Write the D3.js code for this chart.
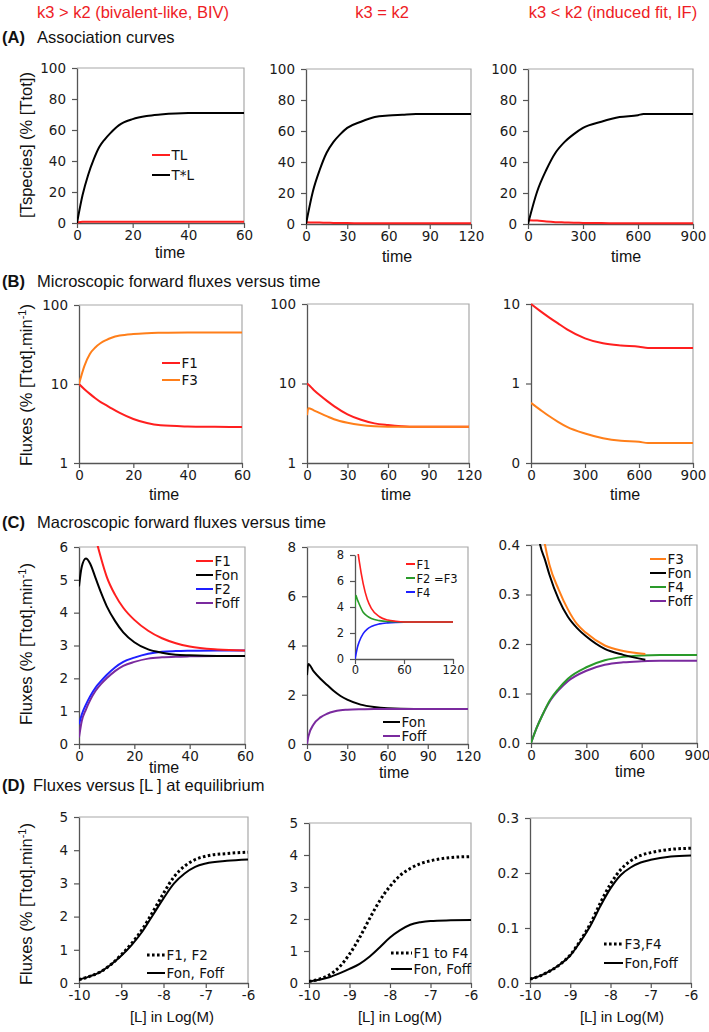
<!DOCTYPE html>
<html><head><meta charset="utf-8">
<script src="https://cdn.jsdelivr.net/npm/d3@7"></script>
<style>body{margin:0;background:#fff}svg{display:block}</style>
</head><body>
<svg id="c" width="709" height="1032"></svg>
<script>
// ---------------- DATA ----------------
// Row A: association curves
const a1Time = [0,2,4,6,8,10,12,15,20,25,30,40,50,60];
const a1TstarL = [0,18,31,41,49,54,58,63,67,69,70,71,71,71];
const a1TL = [0.3,0.8,0.8,0.8,0.8,0.8,0.8,0.8,0.8,0.8,0.8,0.8,0.8,0.8];
const a2Time = [0,5,10,15,20,25,30,40,50,60,70,80,90,100,120];
const a2TstarL = [0,21,35,46,53,58,62,66,69,70,70.5,71,71,71,71];
const a2TL = [1.2,1.0,0.9,0.8,0.7,0.6,0.6,0.5,0.5,0.5,0.5,0.5,0.5,0.5,0.5];
const a3Time = [0,50,100,150,200,250,300,400,500,600,630,700,800,900];
const a3TstarL = [0,21,35,46,53,58,62,66,69,70.2,71,71,71,71];
const a3TL = [2.5,2.2,1.6,1.2,1.0,0.8,0.7,0.6,0.5,0.5,0.5,0.5,0.5,0.5];

// Row B: microscopic forward fluxes (log scale)
const b1Time = [0,2,4,6,8,10,12,15,20,25,30,40,50,60];
const b1F3 = [10,17,24,29,33,36,38.5,41,43,44,44.5,45,45,45];
const b1F1 = [10,8.6,7.5,6.6,5.9,5.4,4.9,4.3,3.6,3.2,3.0,2.9,2.87,2.85];
const b2Time = [0,1,5,10,15,20,30,40,50,60,70,80,90,120];
const b2F1 = [10,9.7,8.3,7.0,6.0,5.2,4.1,3.5,3.15,3.0,2.9,2.85,2.85,2.85];
const b2F3 = [4.0,4.9,4.6,4.2,3.85,3.55,3.2,3.0,2.9,2.86,2.85,2.85,2.85,2.85];
const b3Time = [0,50,100,150,200,300,400,500,600,650,700,900];
const b3F1 = [10,8.2,6.8,5.7,4.8,3.7,3.2,3.0,2.9,2.8,2.8,2.8];
const b3F3 = [0.57,0.47,0.39,0.33,0.285,0.235,0.205,0.19,0.185,0.178,0.178,0.178];

// Row C: macroscopic forward fluxes
const c1Time = [0,1,2.5,4,6,8,10,13,16,20,25,30,35,40,50,60];
const c1F1 = [10,9.2,8.1,7.2,6.3,5.65,5.1,4.55,4.15,3.78,3.45,3.22,3.07,2.97,2.88,2.85];
const c1Fon = [4.8,5.4,5.65,5.5,5.05,4.6,4.2,3.75,3.4,3.1,2.88,2.78,2.72,2.70,2.68,2.68];
const c1F2 = [0.6,0.9,1.2,1.45,1.72,1.92,2.1,2.33,2.5,2.63,2.75,2.81,2.83,2.84,2.85,2.85];
const c1Foff = [0.2,0.7,1.05,1.33,1.62,1.83,2.0,2.22,2.38,2.5,2.6,2.64,2.66,2.67,2.68,2.68];
const c2Time = [0,1,5,10,15,20,25,30,40,50,60,80,100,120];
const c2Fon = [2.8,3.25,2.95,2.65,2.4,2.15,1.95,1.8,1.6,1.5,1.45,1.42,1.42,1.42];
const c2Foff = [0,0.3,0.8,1.08,1.23,1.32,1.37,1.39,1.41,1.42,1.42,1.42,1.42,1.42];
const c2InsetTime = [0,1,3,5,10,15,20,30,40,50,60,80,120];
const c2InsetF1 = [10,9.4,8.5,7.6,5.8,4.6,3.9,3.25,3.0,2.9,2.85,2.85,2.85];
const c2InsetF2F3 = [4.0,4.9,4.55,4.25,3.6,3.3,3.12,2.95,2.88,2.86,2.85,2.85,2.85];
const c2InsetF4 = [0,0.3,0.9,1.3,1.95,2.3,2.5,2.7,2.78,2.82,2.84,2.85,2.85];
const c3TimeA = [0,50,76,100,150,200,250,300,400,500,620];
const c3F3 = [0.57,0.46,0.4,0.36,0.31,0.27,0.24,0.222,0.197,0.186,0.18];
const c3Fon = [0.55,0.4,0.37,0.34,0.29,0.255,0.232,0.215,0.19,0.178,0.168];
const c3TimeB = [0,30,60,100,150,200,300,400,500,600,700,900];
const c3F4 = [0,0.03,0.055,0.085,0.11,0.13,0.153,0.167,0.174,0.177,0.178,0.178];
const c3Foff = [0,0.03,0.055,0.083,0.107,0.125,0.146,0.158,0.163,0.165,0.166,0.166];

// Row D: fluxes versus [L] at equilibrium
const logL = [-10,-9.75,-9.5,-9.25,-9,-8.75,-8.5,-8.25,-8,-7.75,-7.5,-7.25,-7,-6.5,-6];
const d1Micro = [0.1,0.2,0.33,0.55,0.85,1.2,1.62,2.15,2.7,3.2,3.52,3.72,3.82,3.9,3.94];
const d1Macro = [0.1,0.2,0.33,0.55,0.82,1.15,1.55,2.05,2.55,3.0,3.3,3.5,3.6,3.68,3.72];
const d2Micro = [0.05,0.12,0.25,0.5,0.9,1.42,2.02,2.58,3.02,3.36,3.58,3.73,3.82,3.92,3.95];
const d2Macro = [0.05,0.1,0.18,0.3,0.44,0.6,0.83,1.12,1.42,1.65,1.82,1.9,1.94,1.96,1.97];
const d3Micro = [0.007,0.013,0.022,0.034,0.051,0.077,0.108,0.146,0.18,0.206,0.222,0.232,0.237,0.243,0.245];
const d3Macro = [0.007,0.013,0.022,0.034,0.05,0.075,0.104,0.14,0.172,0.196,0.21,0.219,0.224,0.23,0.232];

// Tick values / labels
const pctTicks = [0,20,40,60,80,100];
const xTicks60 = [0,20,40,60];
const xTicks120 = [0,30,60,90,120];
const xTicks900 = [0,300,600,900];
const xTicksInset = [0,60,120];
const logTicksB12 = [1,10,100];
const logTicksB3 = [0.1,1,10];
const logLabelsB3 = ["0","1","10"];
const c1Ticks = [0,1,2,3,4,5,6];
const c2Ticks = [0,2,4,6,8];
const c3Ticks = [0,0.1,0.2,0.3,0.4];
const dTicks5 = [0,1,2,3,4,5];
const d3Ticks = [0,0.1,0.2,0.3];
const logLTicks = [-10,-9,-8,-7,-6];
const logLLabels = ["-10","-9","-8","-7","-6"];

const headers = ["k3 > k2 (bivalent-like, BIV)","k3 = k2","k3 < k2 (induced fit, IF)"];
const sectionLetters = ["(A)","(B)","(C)","(D)"];
const sectionTitles = ["Association curves","Microscopic forward fluxes versus time","Macroscopic forward fluxes versus time","Fluxes versus [L ] at equilibrium"];

// ---------------- DRAWING ----------------
const RED="#ff1f1f", ORANGE="#ff7f1a", BLACK="#000", BLUE="#1f1fff", PURPLE="#7a2a9e", GREEN="#2a9a2a";
const svg = d3.select("#c");
const TF = "'DejaVu Sans', Verdana, sans-serif";
const LF = "'Liberation Sans', Arial, sans-serif";
let clipN = 0;
const zip = (xs, ys) => xs.map((v,i)=>[v, ys[i]]);

function panel(cfg){
  const [x0,x1,y0,y1] = cfg.box;
  const fs = cfg.fs || 13.5;
  const x = d3.scaleLinear().domain(cfg.xDomain).range([x0,x1]);
  const y = (cfg.log ? d3.scaleLog() : d3.scaleLinear()).domain(cfg.yDomain).range([y1,y0]);
  const g = svg.append("g");
  if (cfg.frame !== false) {
    g.append("path").attr("d",`M${x0},${y0}H${x1}V${y1}`)
      .attr("fill","none").attr("stroke","#a8a8a8").attr("stroke-width",1.2);
  }
  const id = "clip" + (clipN++);
  svg.append("clipPath").attr("id",id).append("rect")
    .attr("x",x0).attr("y",y0-1).attr("width",x1-x0+2).attr("height",y1-y0+2);

  const xa = g.append("g").attr("transform",`translate(0,${y1})`)
    .call(d3.axisBottom(x).tickValues(cfg.xTicks).tickSize(5).tickSizeOuter(0).tickPadding(2)
      .tickFormat(cfg.xFmt || d3.format("d")));
  const ya = g.append("g").attr("transform",`translate(${x0},0)`)
    .call(d3.axisLeft(y).tickValues(cfg.yTicks).tickSize(5).tickSizeOuter(0).tickPadding(6)
      .tickFormat(cfg.yFmt || d3.format("d")));
  [xa,ya].forEach(a=>{
    a.select(".domain").attr("stroke","#555").attr("stroke-width",1.3);
    a.selectAll(".tick line").attr("stroke","#555").attr("stroke-width",1.2);
    a.selectAll("text").attr("font-family",TF).attr("font-size",fs).attr("fill","#1a1a1a");
  });

  const lg = g.append("g").attr("clip-path",`url(#${id})`);
  cfg.series.forEach(s=>{
    const line = d3.line().x(d=>x(d[0])).y(d=>y(d[1])).curve(d3.curveMonotoneX);
    const p = lg.append("path").datum(zip(s.xs,s.ys)).attr("d",line)
      .attr("fill","none").attr("stroke",s.color).attr("stroke-width",s.w || 2)
      .attr("stroke-linejoin","round");
    if (s.dotted) p.attr("stroke-dasharray","2.6,2.4").attr("stroke-width",3);
  });

  if (cfg.xTitle) {
    g.append("text").attr("x",cfg.xTitle[1]).attr("y",y1+cfg.xTitle[2])
      .attr("text-anchor","middle").attr("font-family",LF).attr("font-size",cfg.xTitle[3]||16)
      .attr("fill","#111").text(cfg.xTitle[0]);
  }
  if (cfg.legend) {
    const L = cfg.legend;
    L.items.forEach((it,i)=>{
      const ly = L.ys[i];
      const ln = g.append("line").attr("x1",L.x0).attr("x2",L.x1).attr("y1",ly).attr("y2",ly)
        .attr("stroke",it.color).attr("stroke-width",it.dotted?3:2);
      if (it.dotted) ln.attr("stroke-dasharray","2.6,2.4");
      g.append("text").attr("x",L.x1+1.5).attr("y",ly+4.7).attr("font-family",TF)
        .attr("font-size",L.fs||13.5).attr("fill","#111").text(it.label);
    });
  }
  return {x,y,g};
}

// Headers
const headerX = [133,382,613];
headers.forEach((h,i)=>{
  svg.append("text").attr("x",headerX[i]).attr("y",18).attr("text-anchor","middle")
    .attr("font-family",LF).attr("font-size",16.5).attr("fill","#ee1c25").text(h);
});
// Section titles
const secY = [43,287,528,791];
const secTX = [37,37,37,33];
sectionLetters.forEach((l,i)=>{
  svg.append("text").attr("x",2).attr("y",secY[i]).attr("font-family",LF).attr("font-size",16.5)
    .attr("font-weight","bold").attr("fill","#111").text(l);
  svg.append("text").attr("x",secTX[i]).attr("y",secY[i]).attr("font-family",LF).attr("font-size",16.5)
    .attr("fill","#111").text(sectionTitles[i]);
});
// Y axis titles
function yTitle(cy, flux){
  const t = svg.append("text").attr("transform",`translate(32,${cy}) rotate(-90)`)
    .attr("text-anchor","middle").attr("font-family",LF).attr("font-size",16.5).attr("fill","#111");
  if (!flux) { t.text("[Tspecies] (% [Ttot])"); return; }
  t.append("tspan").text("Fluxes (% [Ttot].min");
  t.append("tspan").attr("dy",-6).attr("font-size",11).text("-1");
  t.append("tspan").attr("dy",6).text(")");
}
yTitle(145,false); yTitle(385,true); yTitle(644,true); yTitle(904,true);

const logLFmt = (d,i)=>logLLabels[i];

// Row A
panel({box:[77,244,68,223], xDomain:[0,60], yDomain:[0,100], xTicks:xTicks60, yTicks:pctTicks,
  series:[{xs:a1Time,ys:a1TL,color:RED},{xs:a1Time,ys:a1TstarL,color:BLACK}],
  xTitle:["time",170,35],
  legend:{x0:152,x1:170,ys:[155,175],items:[{label:"TL",color:RED},{label:"T*L",color:BLACK}]}});
panel({box:[306,471,69,224], xDomain:[0,120], yDomain:[0,100], xTicks:xTicks120, yTicks:pctTicks,
  series:[{xs:a2Time,ys:a2TL,color:RED},{xs:a2Time,ys:a2TstarL,color:BLACK}],
  xTitle:["time",397,38]});
panel({box:[528,693,69,224], xDomain:[0,900], yDomain:[0,100], xTicks:xTicks900, yTicks:pctTicks,
  series:[{xs:a3Time,ys:a3TL,color:RED},{xs:a3Time,ys:a3TstarL,color:BLACK}],
  xTitle:["time",626,38]});

// Row B
panel({box:[79,242,305,463], xDomain:[0,60], yDomain:[1,100], log:true, xTicks:xTicks60, yTicks:logTicksB12,
  series:[{xs:b1Time,ys:b1F1,color:RED},{xs:b1Time,ys:b1F3,color:ORANGE}],
  xTitle:["time",164,37],
  legend:{x0:162,x1:180,ys:[363,380],items:[{label:"F1",color:RED},{label:"F3",color:ORANGE}]}});
panel({box:[307,469,304,463], xDomain:[0,120], yDomain:[1,100], log:true, xTicks:xTicks120, yTicks:logTicksB12,
  series:[{xs:b2Time,ys:b2F1,color:RED},{xs:b2Time,ys:b2F3,color:ORANGE}],
  xTitle:["time",396,37]});
panel({box:[531,693,304,463], xDomain:[0,900], yDomain:[0.1,10], log:true, xTicks:xTicks900, yTicks:logTicksB3,
  yFmt:(d,i)=>logLabelsB3[i],
  series:[{xs:b3Time,ys:b3F1,color:RED},{xs:b3Time,ys:b3F3,color:ORANGE}],
  xTitle:["time",625,37]});

// Row C
panel({box:[79,245,547,744], xDomain:[0,60], yDomain:[0,6], xTicks:xTicks60, yTicks:c1Ticks,
  series:[{xs:c1Time,ys:c1Foff,color:PURPLE},{xs:c1Time,ys:c1F2,color:BLUE},
          {xs:c1Time,ys:c1Fon,color:BLACK},{xs:c1Time,ys:c1F1,color:RED}],
  xTitle:["time",164,29],
  legend:{x0:196,x1:213,ys:[561,575,589,603],items:[{label:"F1",color:RED},{label:"Fon",color:BLACK},
    {label:"F2",color:BLUE},{label:"Foff",color:PURPLE}]}});
panel({box:[307,468,547,744], xDomain:[0,120], yDomain:[0,8], xTicks:xTicks120, yTicks:c2Ticks,
  series:[{xs:c2Time,ys:c2Fon,color:BLACK},{xs:c2Time,ys:c2Foff,color:PURPLE}],
  xTitle:["time",394,34],
  legend:{x0:383,x1:400,ys:[722,736],items:[{label:"Fon",color:BLACK},{label:"Foff",color:PURPLE}]}});
panel({box:[355,453,555,659], xDomain:[0,120], yDomain:[0,8], xTicks:xTicksInset, yTicks:c2Ticks, frame:false, fs:11.5,
  series:[{xs:c2InsetTime,ys:c2InsetF4,color:BLUE,w:1.6},{xs:c2InsetTime,ys:c2InsetF2F3,color:GREEN,w:1.6},
          {xs:c2InsetTime,ys:c2InsetF1,color:RED,w:1.6}],
  legend:{x0:406,x1:415,fs:11.5,ys:[564,578,592],items:[{label:"F1",color:RED},{label:"F2  =F3",color:GREEN},
    {label:"F4",color:BLUE}]}});
panel({box:[531,697,545,743], xDomain:[0,900], yDomain:[0,0.4], xTicks:xTicks900, yTicks:c3Ticks,
  yFmt:d3.format(".1f"),
  series:[{xs:c3TimeB,ys:c3Foff,color:PURPLE},{xs:c3TimeB,ys:c3F4,color:GREEN},
          {xs:c3TimeA,ys:c3Fon,color:BLACK},{xs:c3TimeA,ys:c3F3,color:ORANGE}],
  xTitle:["time",630,34],
  legend:{x0:650,x1:666,ys:[559,573,587,601],items:[{label:"F3",color:ORANGE},{label:"Fon",color:BLACK},
    {label:"F4",color:GREEN},{label:"Foff",color:PURPLE}]}});

// Row D
panel({box:[79,248,817,983], xDomain:[-10,-6], yDomain:[0,5], xTicks:logLTicks, yTicks:dTicks5, xFmt:logLFmt,
  series:[{xs:logL,ys:d1Micro,color:BLACK,dotted:true},{xs:logL,ys:d1Macro,color:BLACK}],
  xTitle:["[L] in Log(M)",172,39,15],
  legend:{x0:147,x1:165,ys:[955,973],items:[{label:"F1, F2",color:BLACK,dotted:true},{label:"Fon, Foff",color:BLACK}]}});
panel({box:[309,471,823,983], xDomain:[-10,-6], yDomain:[0,5], xTicks:logLTicks, yTicks:dTicks5, xFmt:logLFmt,
  series:[{xs:logL,ys:d2Micro,color:BLACK,dotted:true},{xs:logL,ys:d2Macro,color:BLACK}],
  xTitle:["[L] in Log(M)",400,39,15],
  legend:{x0:391,x1:412,ys:[953,969],items:[{label:"F1 to F4",color:BLACK,dotted:true},{label:"Fon, Foff",color:BLACK}]}});
panel({box:[530,691,818,983], xDomain:[-10,-6], yDomain:[0,0.3], xTicks:logLTicks, yTicks:d3Ticks, xFmt:logLFmt,
  yFmt:d3.format(".1f"),
  series:[{xs:logL,ys:d3Micro,color:BLACK,dotted:true},{xs:logL,ys:d3Macro,color:BLACK}],
  xTitle:["[L] in Log(M)",622,39,15],
  legend:{x0:604,x1:623,ys:[944,963],items:[{label:"F3,F4",color:BLACK,dotted:true},{label:"Fon,Foff",color:BLACK}]}});
</script>
</body></html>
